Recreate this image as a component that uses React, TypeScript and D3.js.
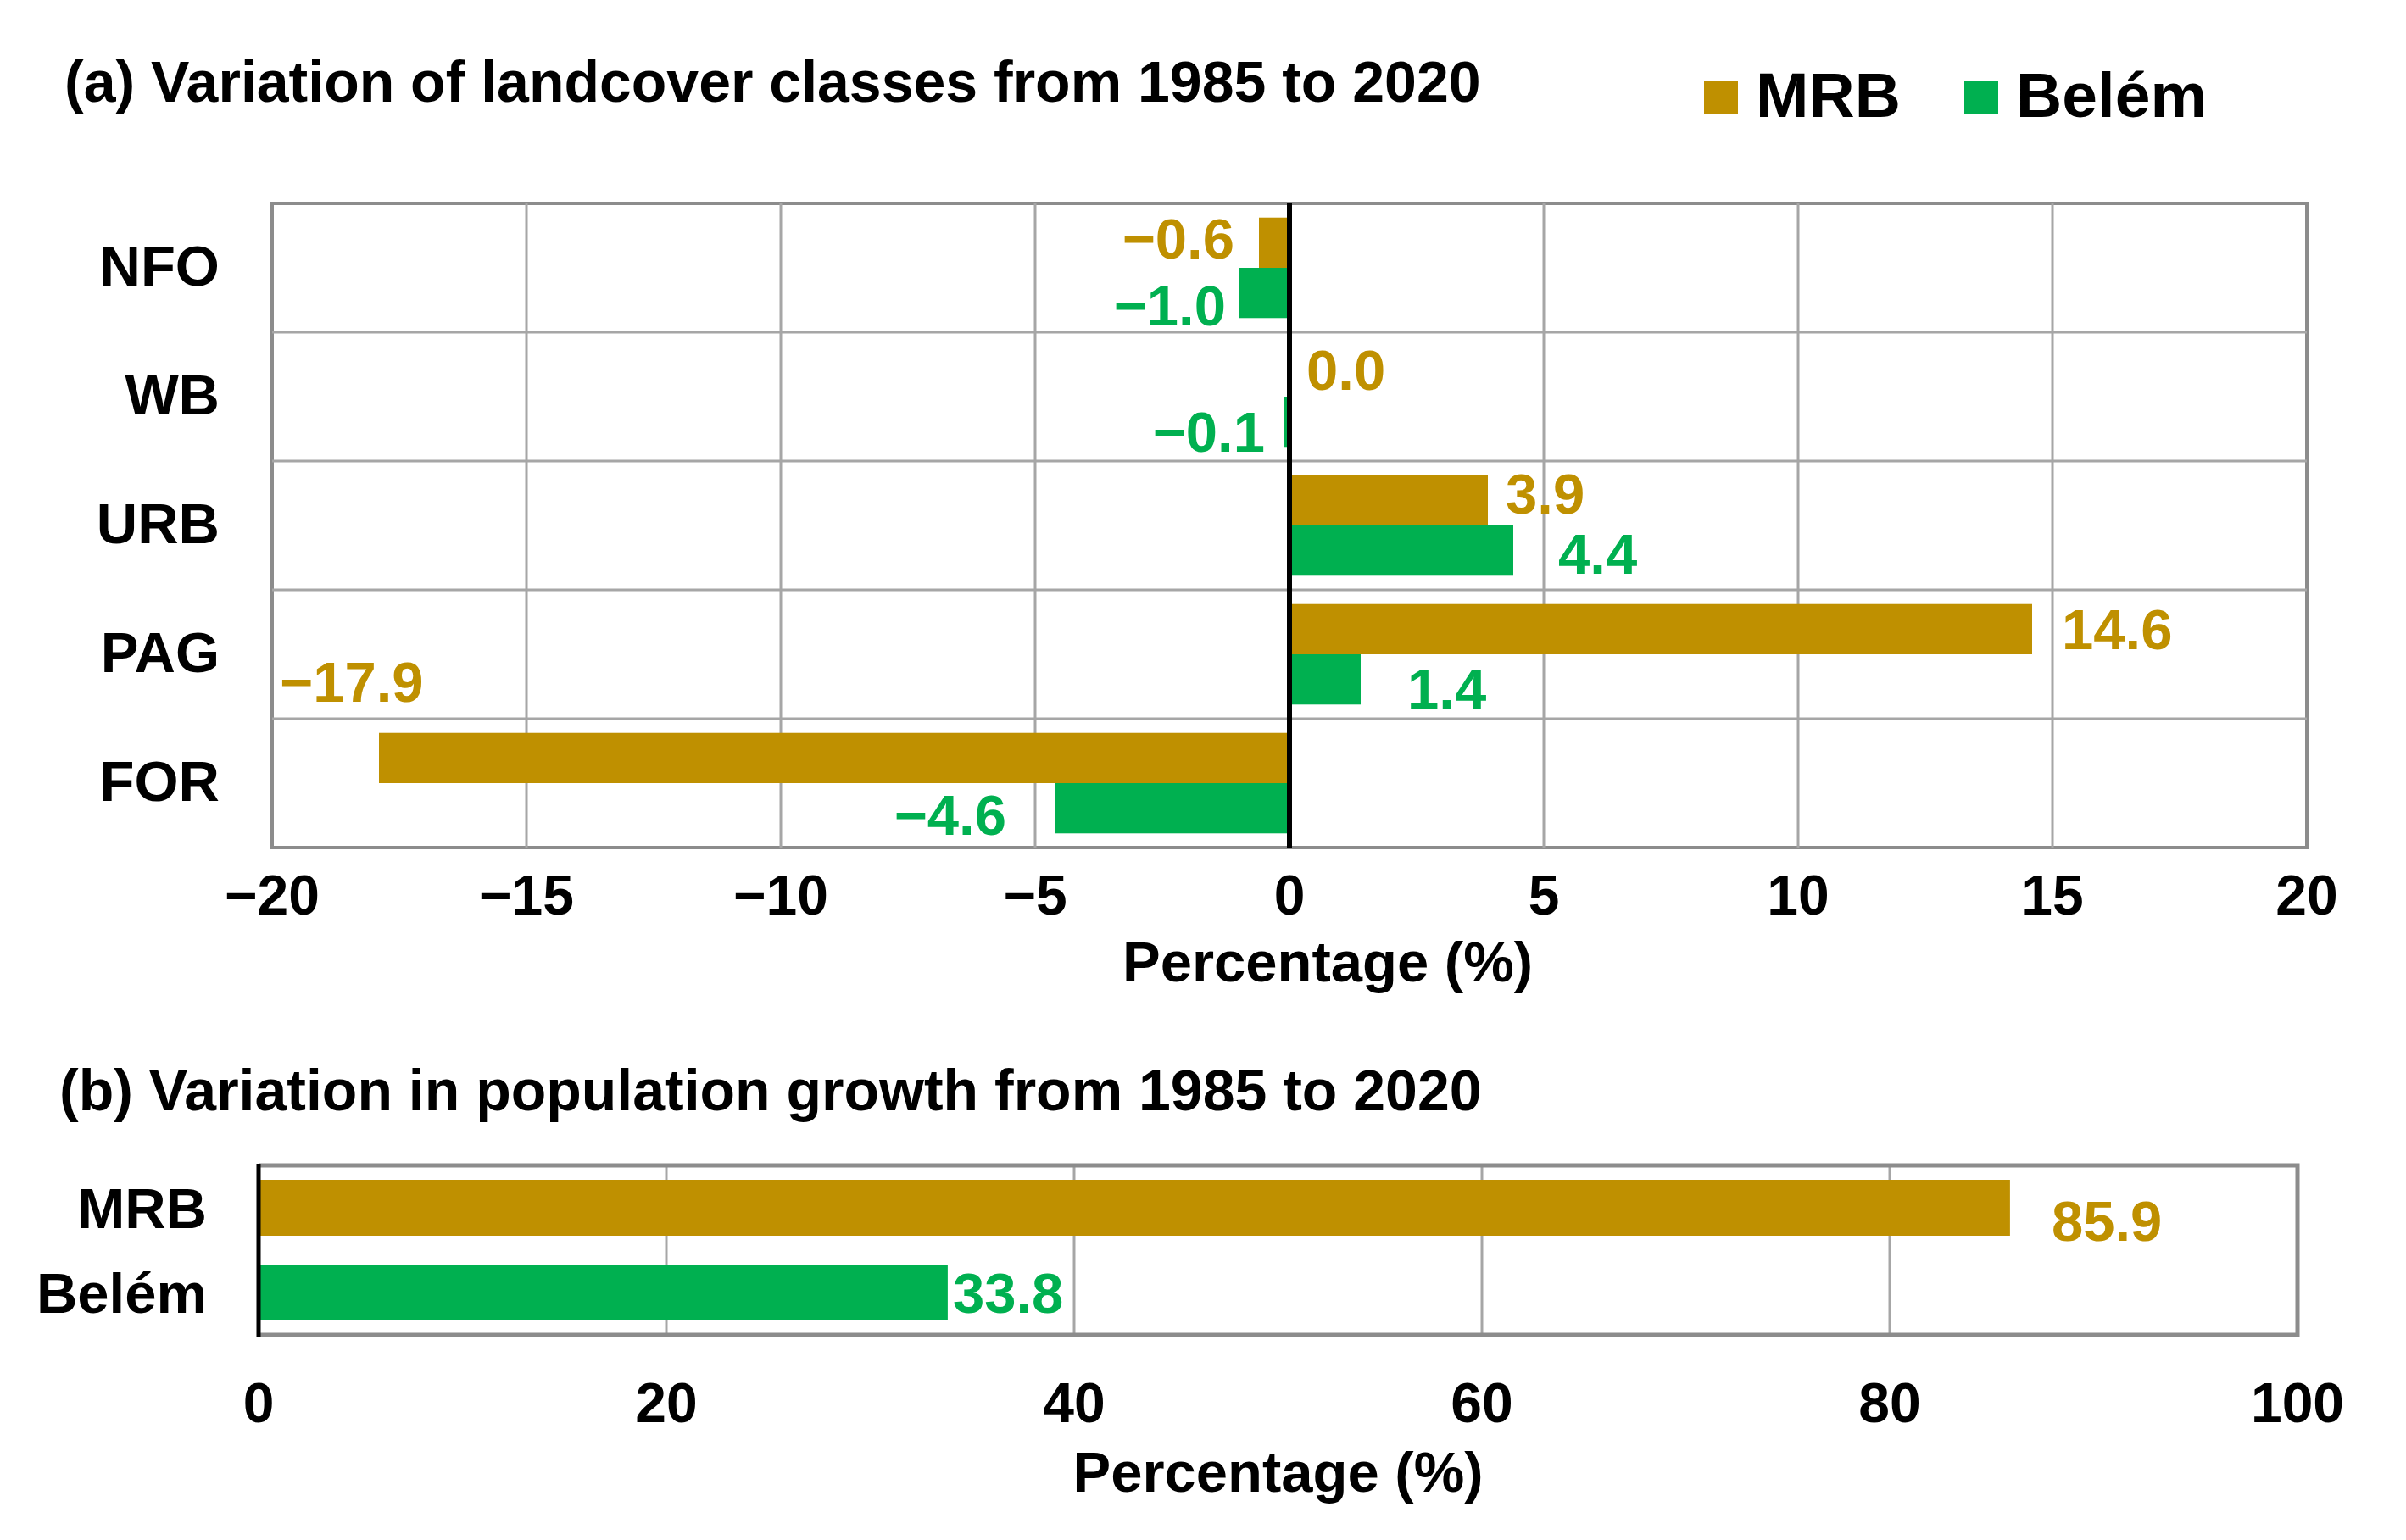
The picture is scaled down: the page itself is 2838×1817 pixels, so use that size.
import * as d3 from 'd3';

const landClasses = ['NFO', 'WB', 'URB', 'PAG', 'FOR'];
const seriesNames = ['MRB', 'Belém'];
const mrbLandChange = [-0.6, 0.0, 3.9, 14.6, -17.9];
const belemLandChange = [-1.0, -0.1, 4.4, 1.4, -4.6];
const landTicks = [-20, -15, -10, -5, 0, 5, 10, 15, 20];

const popPlaces = ['MRB', 'Belém'];
const popGrowth = [85.9, 33.8];
const popTicks = [0, 20, 40, 60, 80, 100];

const titleA = '(a) Variation of landcover classes from 1985 to 2020';
const titleB = '(b) Variation in population growth from 1985 to 2020';
const axisTitle = 'Percentage (%)';

const W = 2838;
const H = 1817;
const FONT = '"Liberation Sans", Arial, sans-serif';
const GOLD = '#BF9000';
const GREEN = '#00B050';
const GRID = '#A6A6A6';
const FRAME = '#8C8C8C';
const colors = [GOLD, GREEN];

// hand-placed label tweaks from the original: gap from bar end, vertical shift
const labelNudge = [
  [{ gap: 29, dy: -5 }, { gap: 15, dy: 14 }],
  [{ gap: 20, dy: -2 }, { gap: 23, dy: 11 }],
  [{ gap: 21, dy: -8 }, { gap: 53, dy: 3 }],
  [{ gap: 35, dy: 0 }, { gap: 55, dy: 10 }],
  [{ gap: 0, dy: -90, pinLeft: true }, { gap: 58, dy: 7 }],
];

const fmt = (v: number) => (v < 0 ? '\u2212' : '') + Math.abs(v).toFixed(1);

export default function App() {
  // panel (a)
  const ax = d3.scaleLinear().domain([-20, 20]).range([321, 2721]);
  const ay = d3.scaleBand().domain(landClasses).range([240, 1000]);
  const bw = ay.bandwidth();
  const pad = bw * 0.11;
  const sub = d3.scaleBand().domain(seriesNames).range([pad, bw - pad]);
  const series = [mrbLandChange, belemLandChange];

  // panel (b)
  const bx = d3.scaleLinear().domain([0, 100]).range([305, 2710]);
  const by = d3.scaleBand().domain(popPlaces).range([1375, 1575]).paddingInner(0.34).paddingOuter(0.17);

  const textBase = 0.36; // cap-centre to baseline, in em
  const fs = 67;

  return (
    <svg width={W} height={H} style={{ position: 'absolute', left: 0, top: 0 }} fontFamily={FONT} fontWeight="bold">
      <rect width={W} height={H} fill="#fff" />

      {/* ---------- panel (a) ---------- */}
      <text x={76} y={120} fontSize={68}>{titleA}</text>

      {seriesNames.map((s, i) => {
        const x0 = [2010, 2317][i];
        return (
          <g key={s}>
            <rect x={x0} y={95} width={40} height={40} fill={colors[i]} />
            <text x={x0 + 61} y={138} fontSize={75}>{s}</text>
          </g>
        );
      })}

      <rect x={ax(-20)} y={240} width={ax(20) - ax(-20)} height={760} fill="none" stroke={FRAME} strokeWidth={4} />
      {landTicks.slice(1, -1).filter(t => t !== 0).map(t => (
        <line key={t} x1={ax(t)} x2={ax(t)} y1={240} y2={1000} stroke={GRID} strokeWidth={3} />
      ))}
      {landClasses.slice(1).map(c => (
        <line key={c} x1={ax(-20)} x2={ax(20)} y1={ay(c)} y2={ay(c)} stroke={GRID} strokeWidth={3} />
      ))}

      {landClasses.map((c, ci) =>
        series.map((vals, si) => {
          const v = vals[ci];
          const y = (ay(c) as number) + (sub(seriesNames[si]) as number);
          const h = sub.bandwidth();
          return (
            <rect key={c + si} x={Math.min(ax(0), ax(v))} y={y} width={Math.abs(ax(v) - ax(0))} height={h} fill={colors[si]} />
          );
        })
      )}

      {landClasses.map((c, ci) =>
        series.map((vals, si) => {
          const v = vals[ci];
          const nudge = labelNudge[ci][si];
          const cy = (ay(c) as number) + (sub(seriesNames[si]) as number) + sub.bandwidth() / 2 + nudge.dy;
          let x = v < 0 ? ax(v) - nudge.gap : ax(v) + nudge.gap;
          let anchor = v < 0 ? 'end' : 'start';
          if (nudge.pinLeft) {
            x = ax(-20) + 9;
            anchor = 'start';
          }
          return (
            <text key={'l' + c + si} x={x} y={cy + fs * textBase} fontSize={fs} fill={colors[si]} textAnchor={anchor}>
              {fmt(v)}
            </text>
          );
        })
      )}

      <line x1={ax(0)} x2={ax(0)} y1={240} y2={1000} stroke="#000" strokeWidth={6} />

      {landClasses.map(c => (
        <text key={c} x={259} y={(ay(c) as number) + bw / 2 + fs * textBase - 3} fontSize={fs} textAnchor="end">{c}</text>
      ))}
      {landTicks.map(t => (
        <text key={t} x={ax(t)} y={1079} fontSize={66} textAnchor="middle">{t < 0 ? '\u2212' + Math.abs(t) : t}</text>
      ))}
      <text x={1566} y={1158} fontSize={67} textAnchor="middle">{axisTitle}</text>

      {/* ---------- panel (b) ---------- */}
      <text x={70} y={1310} fontSize={68}>{titleB}</text>

      {popTicks.slice(1, -1).map(t => (
        <line key={t} x1={bx(t)} x2={bx(t)} y1={1375} y2={1575} stroke={GRID} strokeWidth={3} />
      ))}
      <path d={`M${bx(0)},1375H${bx(100)}V1575H${bx(0)}`} fill="none" stroke={FRAME} strokeWidth={5} />

      {popPlaces.map((p, i) => (
        <rect key={p} x={bx(0)} y={by(p)} width={bx(popGrowth[i]) - bx(0)} height={by.bandwidth()} fill={colors[i]} />
      ))}
      <line x1={bx(0)} x2={bx(0)} y1={1373} y2={1577} stroke="#000" strokeWidth={5} />

      {popPlaces.map((p, i) => {
        const gap = [49, 6][i];
        const dy = [15, 0][i];
        const cy = (by(p) as number) + by.bandwidth() / 2 + dy;
        return (
          <text key={'v' + p} x={bx(popGrowth[i]) + gap} y={cy + fs * textBase} fontSize={fs} fill={colors[i]}>
            {popGrowth[i].toFixed(1)}
          </text>
        );
      })}

      {popPlaces.map(p => (
        <text key={'c' + p} x={244} y={(by(p) as number) + by.bandwidth() / 2 + fs * textBase} fontSize={fs} textAnchor="end">{p}</text>
      ))}
      {popTicks.map(t => (
        <text key={t} x={bx(t)} y={1678} fontSize={66} textAnchor="middle">{t}</text>
      ))}
      <text x={(bx(0) + bx(100)) / 2} y={1760} fontSize={67} textAnchor="middle">{axisTitle}</text>
    </svg>
  );
}
